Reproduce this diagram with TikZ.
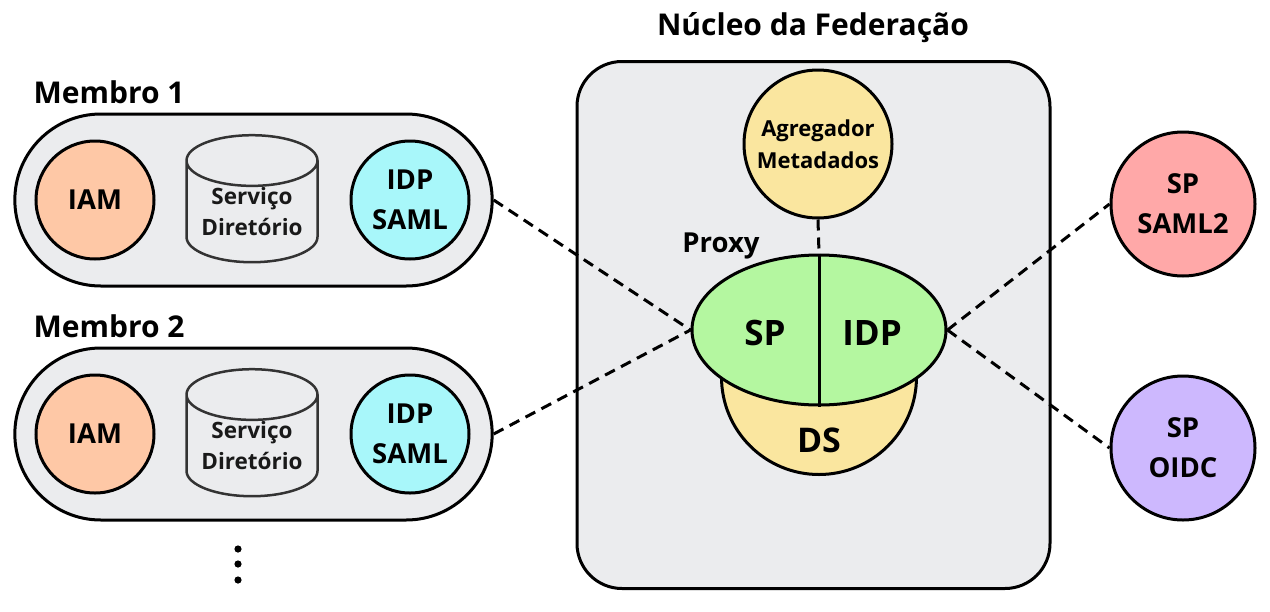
\documentclass[tikz,border=0pt]{standalone}
\usepackage{fontspec}
\setmainfont{Open Sans}
\usetikzlibrary{shapes.geometric, shapes.misc, positioning}
\definecolor{fundo}{HTML}{EBECEE}
\definecolor{laranja}{HTML}{FEC8A6}
\definecolor{ciano}{HTML}{A8F7FA}
\definecolor{verde}{HTML}{B4F7A0}
\definecolor{amarelo}{HTML}{FAE69F}
\definecolor{rosa}{HTML}{FFA8A8}
\definecolor{lilas}{HTML}{CDB8FE}
\tikzset{
  x=1pt, y=-1pt,
  every node/.style={font=\bfseries},
  membro/.style={rounded rectangle, draw, line width=3pt, fill=fundo,
    minimum width=484pt, minimum height=172pt},
  comp/.style={circle, draw, line width=3pt, minimum size=118pt, inner sep=0pt,
    align=center, font=\bfseries\fontsize{27.5}{40}\selectfont},
  sp/.style={comp, minimum size=144pt},
  banco/.style={cylinder, shape border rotate=90, aspect=0.5, draw=black!80,
    line width=2.5pt, fill=fundo, minimum width=131pt, minimum height=127pt,
    inner sep=0pt, align=center, text=black!90,
    font=\bfseries\fontsize{22.5}{31}\selectfont},
  titulo/.style={font=\bfseries\fontsize{30}{32}\selectfont},
  ligacao/.style={line width=3pt, dash pattern=on 11pt off 7pt},
}

\begin{document}
\begin{tikzpicture}
  \useasboundingbox (0,0) rectangle (1270,611);

  % nucleo
  \node[draw, line width=3pt, fill=fundo, rounded corners=45pt,
        minimum width=473pt, minimum height=527pt] (nucleo) at (813.5,325) {};
  \node[titulo] (tnucleo) at (813,28) {Núcleo da Federação};
  \node[comp, fill=amarelo, minimum size=148pt,
        font=\bfseries\fontsize{22}{32}\selectfont] (agreg) at (818,144) {Agregador\\Metadados};
  \node[circle, draw, line width=3pt, fill=amarelo, minimum size=195pt] (ds) at (819,377) {};
  \node[ellipse, draw, line width=3pt, fill=verde,
        minimum width=254pt, minimum height=150pt] (proxy) at (819,330) {};
  \node[font=\bfseries\fontsize{35}{38}\selectfont] (psp) at (765,333) {SP};
  \node[font=\bfseries\fontsize{35}{38}\selectfont] (pidp) at (872,333) {IDP};
  \node[font=\bfseries\fontsize{34}{36}\selectfont] (tds) at (819,440) {DS};
  \node[font=\bfseries\fontsize{27.5}{30}\selectfont] (tproxy) at (721,246) {Proxy};
  \draw[line width=3pt] (proxy.north) -- (proxy.south);
  \draw[ligacao] (agreg.south) -- (proxy.north);

  % membros
  \foreach \n/\y in {1/200, 2/434} {
    \node[membro] (m\n) at (253.5,\y) {};
    \node[titulo, anchor=south west] (tm\n) at (30,\y-93) {Membro \n};
    \node[comp, fill=laranja] (iam\n) at (95,\y) {IAM};
    \node[banco] (dir\n) at (252,\y+12) {Serviço\\Diretório};
    \node[comp, fill=ciano] (idp\n) at (410,\y) {IDP\\SAML};
  }
  \foreach \y in {549,564,580}
    \fill (238,\y) circle (3.6pt);

  % provedores de servico
  \node[sp, fill=rosa] (saml2) at (1183,204) {SP\\SAML2};
  \node[sp, fill=lilas] (oidc) at (1183,448) {SP\\OIDC};

  \draw[ligacao] (m1.east) -- (proxy.west);
  \draw[ligacao] (m2.east) -- (proxy.west);
  \draw[ligacao] (proxy.east) -- (saml2.west);
  \draw[ligacao] (proxy.east) -- (oidc.west);
\end{tikzpicture}
\end{document}
